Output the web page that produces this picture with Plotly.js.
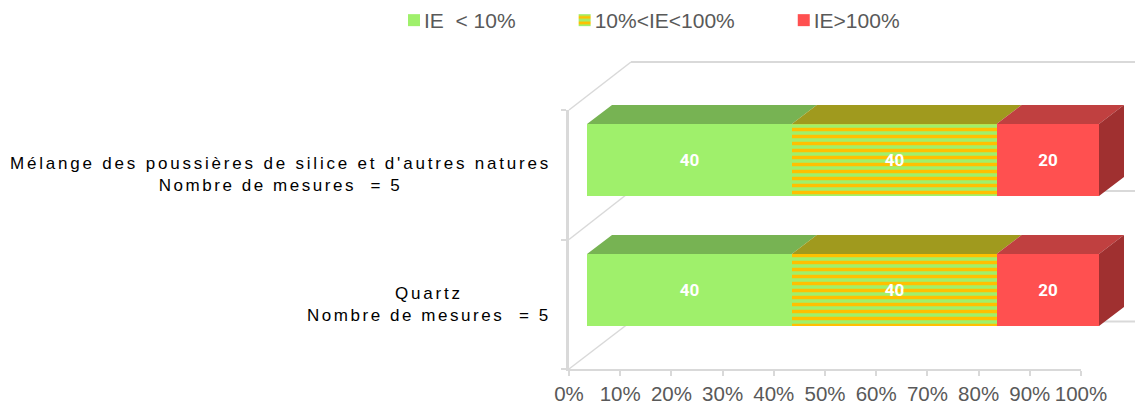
<!DOCTYPE html>
<html><head><meta charset="utf-8">
<script src="https://cdn.plot.ly/plotly-3.0.1.min.js"></script>
<style>
html,body{margin:0;padding:0;background:#fff}
#c{width:1135px;height:403px}
.annotation-text{letter-spacing:2.8px}
.annotation-text tspan.line:last-child{letter-spacing:2.55px}
.legend .legendsymbols{transform:translate(27px,0)}
</style></head><body><div id="c"></div>
<script>
const categories = ["Quartz", "Mélange des poussières de silice et d'autres natures"];
const measureCounts = [5, 5];
const seriesNames = ["IE&nbsp;&nbsp;&lt; 10%", "10%&lt;IE&lt;100%", "IE&gt;100%"];
const lowValues = [40, 40];
const midValues = [40, 40];
const highValues = [20, 20];
const allSeries = [lowValues, midValues, highValues];
const frontColors = ["#9FF06B", "#9FF06B", "#FF5050"];
const topColors = ["#77B353", "#A09A1E", "#C04040"];
const sideColor = "#A03030";
const tickVals = [0,10,20,30,40,50,60,70,80,90,100];

const W = 1135, H = 403;
const px = v => v / W, py = v => 1 - v / H;
const ux = 512 / 100, uy = 130;           // pixels per unit on the bar axes
const depthX = 25 / ux, depthY = 19 / uy, half = 36 / uy;
const positions = categories.map((_, i) => i);

const traces = [];
traces.push({type:'scatter', mode:'none', x:categories.map(()=>0), y:categories, xaxis:'x', yaxis:'y',
  showlegend:false, hoverinfo:'skip'});

allSeries.forEach((vals, s) => {
  const marker = {color: frontColors[s], line:{width:0}};
  if (s === 1) marker.pattern = {shape:'-', size:7, solidity:0.5, fgcolor:'#FFC000', bgcolor:'#9FF06B', fillmode:'replace'};
  traces.push({type:'bar', orientation:'h', name:seriesNames[s], x:vals, y:positions, xaxis:'x2', yaxis:'y2',
    width:2*half, marker, text:vals.map(String), textposition:'inside', insidetextanchor:'middle', constraintext:'none',
    textangle:0, textfont:{color:'#fff', size:17, family:'Roboto, Arial, sans-serif', weight:700}, hoverinfo:'x+name'});
});

// top faces and end faces, derived from the same values
allSeries.forEach((vals, s) => {
  const xs = [], ys = [];
  vals.forEach((v, i) => {
    let b = 0; for (let k = 0; k < s; k++) b += allSeries[k][i];
    const t = i + half;
    xs.push(b, b+v, b+v+depthX, b+depthX, b, null);
    ys.push(t, t, t+depthY, t+depthY, t, null);
  });
  traces.push({type:'scatter', mode:'none', fill:'toself', fillcolor:topColors[s], x:xs, y:ys, xaxis:'x2', yaxis:'y2',
    showlegend:false, hoverinfo:'skip'});
});
{
  const xs = [], ys = [];
  positions.forEach(i => {
    const e = allSeries.reduce((a, v) => a + v[i], 0);
    xs.push(e, e+depthX, e+depthX, e, e, null);
    ys.push(i+half, i+half+depthY, i-half+depthY, i-half, i+half, null);
  });
  traces.push({type:'scatter', mode:'none', fill:'toself', fillcolor:sideColor, x:xs, y:ys, xaxis:'x2', yaxis:'y2',
    showlegend:false, hoverinfo:'skip'});
}

const wall = '#D9D9D9';
const shapes = [];
[[110,62],[239.5,191],[369,321.5]].forEach(([f,b]) => {
  shapes.push({type:'line', layer:'below', xref:'paper', yref:'paper', x0:px(569), y0:py(f), x1:px(631), y1:py(b), line:{color:wall, width:1.5}});
  shapes.push({type:'line', layer:'below', xref:'paper', yref:'paper', x0:px(631), y0:py(b), x1:1, y1:py(b), line:{color:wall, width:2}});
});

const annotations = categories.map((c, i) => ({
  xref:'paper', yref:'y', x:px(553), y:c, xanchor:'right', yanchor:'middle', align:'center', showarrow:false,
  text:c + '<br>Nombre de mesures&nbsp; = ' + measureCounts[i],
  font:{family:'Liberation Sans, Arial, sans-serif', size:17, color:'#000'}
}));

const layout = {
  width:W, height:H, margin:{l:0,r:0,t:0,b:0}, paper_bgcolor:'#fff', plot_bgcolor:'rgba(0,0,0,0)',
  barmode:'stack', bargap:0, showlegend:true, hovermode:false,
  font:{family:'Liberation Sans, Arial, sans-serif', color:'#595959'},
  xaxis:{domain:[px(569),px(1081)], range:[0,100], anchor:'y', tickmode:'array', tickvals:tickVals,
    ticktext:tickVals.map(v=>v+'%'), ticks:'outside', ticklen:5, tickcolor:wall, tickwidth:1.5, showgrid:false, zeroline:false,
    showline:true, linecolor:wall, linewidth:2, tickfont:{size:20.5,color:'#595959'}},
  yaxis:{domain:[py(369),py(110)], anchor:'x', type:'category', categoryorder:'array', categoryarray:categories,
    range:[-0.5,1.5], tickson:'boundaries', ticks:'outside', ticklen:5, tickcolor:wall, tickwidth:1.5,
    showgrid:false, zeroline:false, showline:true, linecolor:wall, linewidth:2.5, showticklabels:false},
  xaxis2:{domain:[0,1], range:[-587/ux,(W-587)/ux], anchor:'y2', visible:false},
  yaxis2:{domain:[0,1], range:[-(H-290)/uy,1+160/uy], anchor:'x2', visible:false},
  legend:{orientation:'h', x:px(350), y:1, xanchor:'left', yanchor:'top', itemwidth:64, traceorder:'normal',
    font:{size:21,color:'#595959'}, bgcolor:'rgba(0,0,0,0)', itemclick:false, itemdoubleclick:false},
  shapes, annotations
};
Plotly.newPlot('c', traces, layout, {displayModeBar:false, responsive:false});
</script></body></html>
